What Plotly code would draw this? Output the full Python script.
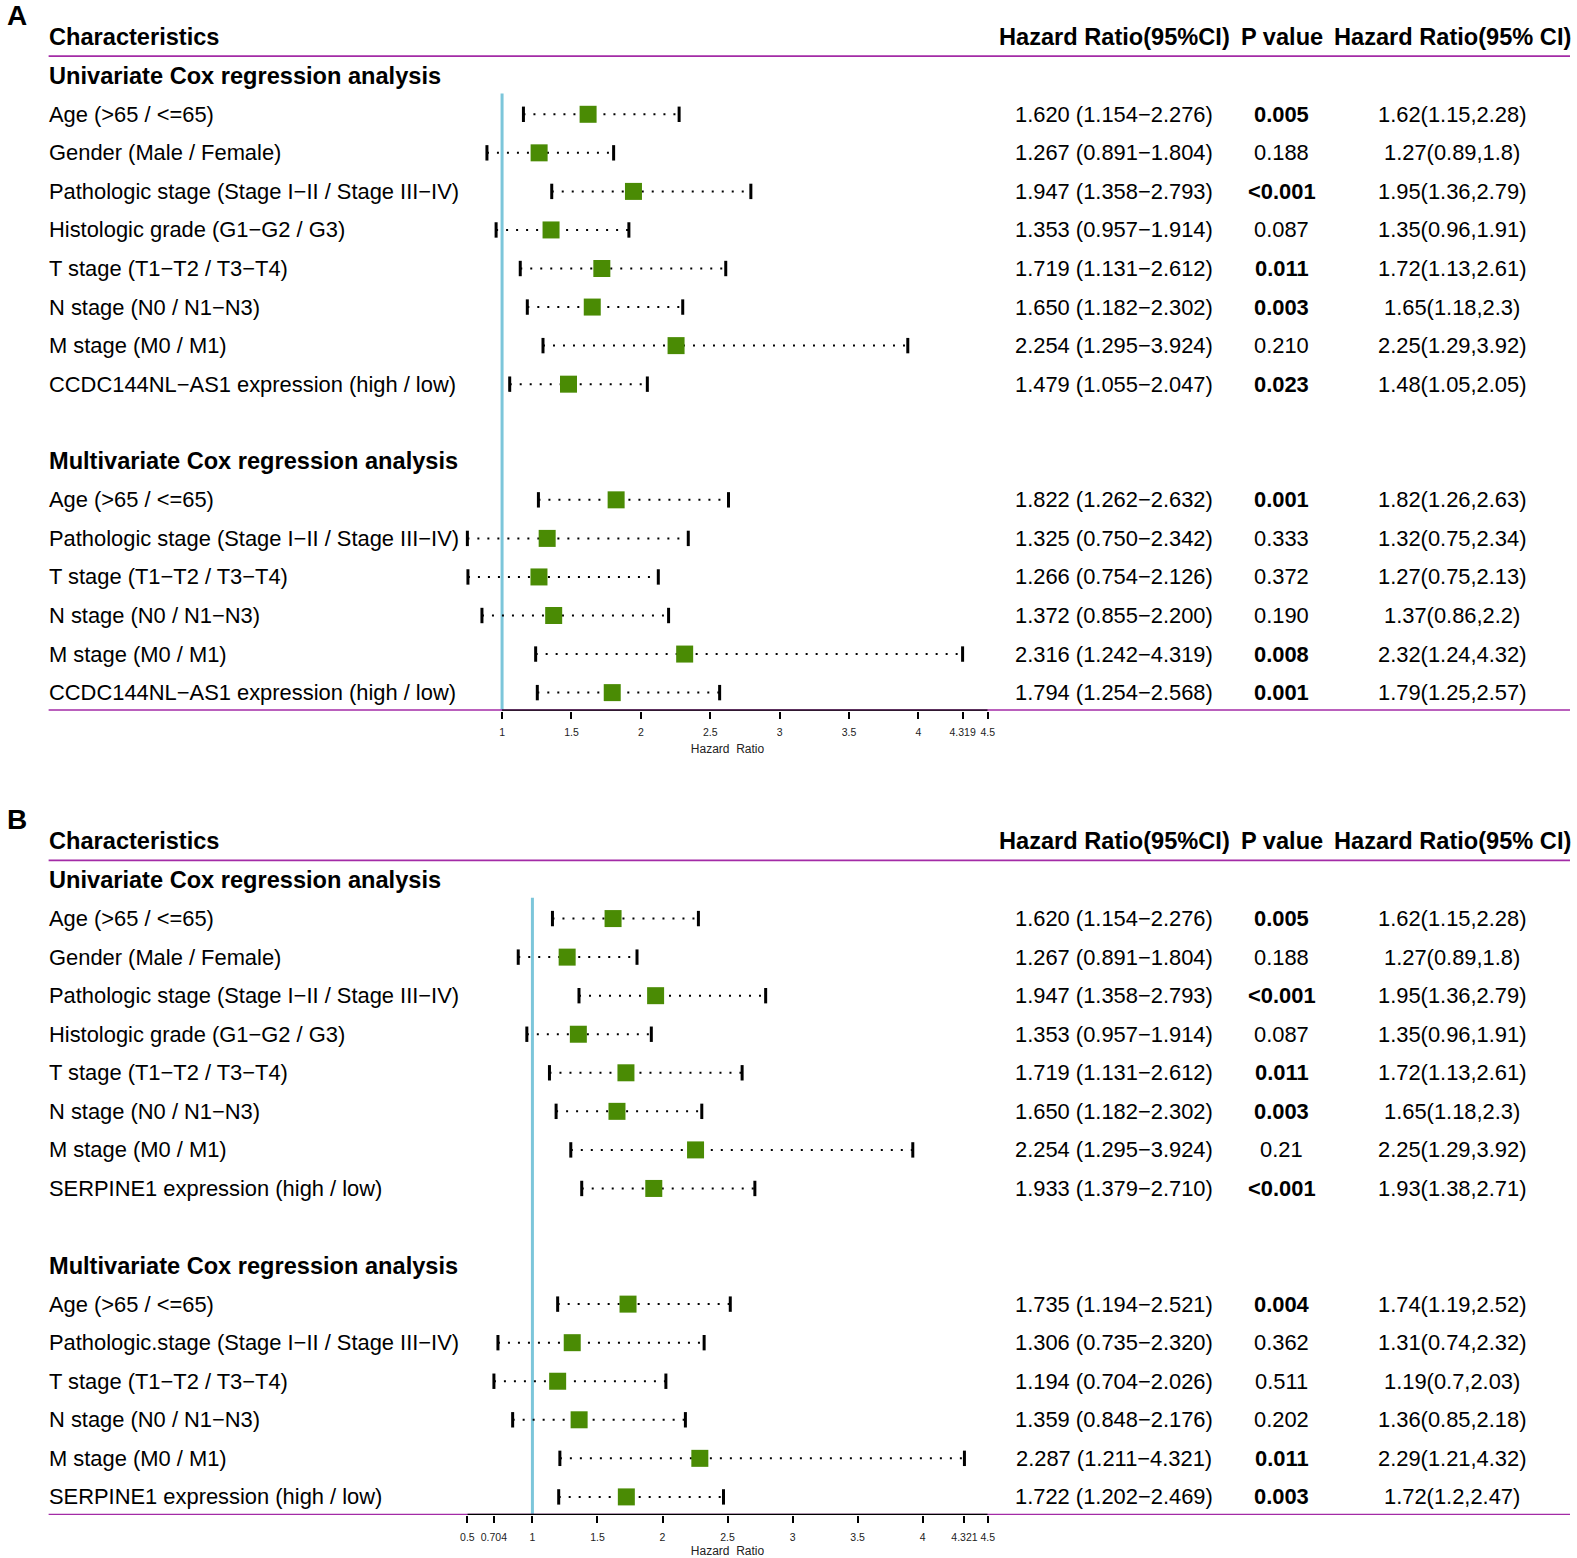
import plotly.graph_objects as go

# ---------------- DATA ----------------
uni_labels_A = ["Age (&gt;65 / &lt;=65)", "Gender (Male / Female)",
                "Pathologic stage (Stage I\u2212II / Stage III\u2212IV)", "Histologic grade (G1\u2212G2 / G3)",
                "T stage (T1\u2212T2 / T3\u2212T4)", "N stage (N0 / N1\u2212N3)", "M stage (M0 / M1)",
                "CCDC144NL\u2212AS1 expression (high / low)"]
uni_hr_A = [1.620, 1.267, 1.947, 1.353, 1.719, 1.650, 2.254, 1.479]
uni_lo_A = [1.154, 0.891, 1.358, 0.957, 1.131, 1.182, 1.295, 1.055]
uni_hi_A = [2.276, 1.804, 2.793, 1.914, 2.612, 2.302, 3.924, 2.047]
uni_p_A = ["0.005", "0.188", "<0.001", "0.087", "0.011", "0.003", "0.210", "0.023"]
uni_ci2_A = ["1.62(1.15,2.28)", "1.27(0.89,1.8)", "1.95(1.36,2.79)", "1.35(0.96,1.91)",
             "1.72(1.13,2.61)", "1.65(1.18,2.3)", "2.25(1.29,3.92)", "1.48(1.05,2.05)"]

multi_labels_A = ["Age (&gt;65 / &lt;=65)", "Pathologic stage (Stage I\u2212II / Stage III\u2212IV)",
                  "T stage (T1\u2212T2 / T3\u2212T4)", "N stage (N0 / N1\u2212N3)", "M stage (M0 / M1)",
                  "CCDC144NL\u2212AS1 expression (high / low)"]
multi_hr_A = [1.822, 1.325, 1.266, 1.372, 2.316, 1.794]
multi_lo_A = [1.262, 0.750, 0.754, 0.855, 1.242, 1.254]
multi_hi_A = [2.632, 2.342, 2.126, 2.200, 4.319, 2.568]
multi_p_A = ["0.001", "0.333", "0.372", "0.190", "0.008", "0.001"]
multi_ci2_A = ["1.82(1.26,2.63)", "1.32(0.75,2.34)", "1.27(0.75,2.13)", "1.37(0.86,2.2)",
               "2.32(1.24,4.32)", "1.79(1.25,2.57)"]

uni_labels_B = ["Age (&gt;65 / &lt;=65)", "Gender (Male / Female)",
                "Pathologic stage (Stage I\u2212II / Stage III\u2212IV)", "Histologic grade (G1\u2212G2 / G3)",
                "T stage (T1\u2212T2 / T3\u2212T4)", "N stage (N0 / N1\u2212N3)", "M stage (M0 / M1)",
                "SERPINE1 expression (high / low)"]
uni_hr_B = [1.620, 1.267, 1.947, 1.353, 1.719, 1.650, 2.254, 1.933]
uni_lo_B = [1.154, 0.891, 1.358, 0.957, 1.131, 1.182, 1.295, 1.379]
uni_hi_B = [2.276, 1.804, 2.793, 1.914, 2.612, 2.302, 3.924, 2.710]
uni_p_B = ["0.005", "0.188", "<0.001", "0.087", "0.011", "0.003", "0.21", "<0.001"]
uni_ci2_B = ["1.62(1.15,2.28)", "1.27(0.89,1.8)", "1.95(1.36,2.79)", "1.35(0.96,1.91)",
             "1.72(1.13,2.61)", "1.65(1.18,2.3)", "2.25(1.29,3.92)", "1.93(1.38,2.71)"]

multi_labels_B = ["Age (&gt;65 / &lt;=65)", "Pathologic.stage (Stage I\u2212II / Stage III\u2212IV)",
                  "T stage (T1\u2212T2 / T3\u2212T4)", "N stage (N0 / N1\u2212N3)", "M stage (M0 / M1)",
                  "SERPINE1 expression (high / low)"]
multi_hr_B = [1.735, 1.306, 1.194, 1.359, 2.287, 1.722]
multi_lo_B = [1.194, 0.735, 0.704, 0.848, 1.211, 1.202]
multi_hi_B = [2.521, 2.320, 2.026, 2.176, 4.321, 2.469]
multi_p_B = ["0.004", "0.362", "0.511", "0.202", "0.011", "0.003"]
multi_ci2_B = ["1.74(1.19,2.52)", "1.31(0.74,2.32)", "1.19(0.7,2.03)", "1.36(0.85,2.18)",
               "2.29(1.21,4.32)", "1.72(1.2,2.47)"]

ticks_A = [1, 1.5, 2, 2.5, 3, 3.5, 4, 4.319, 4.5]
ticks_B = [0.5, 0.704, 1, 1.5, 2, 2.5, 3, 3.5, 4, 4.321, 4.5]
range_A = [0.75, 4.5]
range_B = [0.5, 4.5]
REF = 1

headers = ["Characteristics", "Hazard Ratio(95%CI)", "P value", "Hazard Ratio(95% CI)"]
section_titles = ["Univariate Cox regression analysis", "Multivariate Cox regression analysis"]

# ---------------- STYLE / LAYOUT ----------------
W, H = 1577, 1558
FONT = "Liberation Sans, Arial, sans-serif"
GREEN = "#4A8B04"
MAGENTA = "#A32BA6"
BLUE = "#7CC6DA"
ROW_PX = 38.58
AXIS_ROW = 17.47
X_LABEL, X_C2, X_P, X_C3 = 40, 1117, 1286, 1458
PLOT_X0, PLOT_X1 = 464.5, 989.5
LINE_X0, LINE_X1 = 42, 1577


def fmt_ci(h, l, u):
    return f"{h:.3f} ({l:.3f}\u2212{u:.3f})"


def esc(s):
    return s.replace("<", "&lt;")


def is_sig(p):
    return float(p.replace("<", "")) < 0.05


panels = [
    dict(letter="A", top_px=37.2, xa="x", ya="y", ticks=ticks_A, rng=range_A,
         uni=(uni_labels_A, uni_hr_A, uni_lo_A, uni_hi_A, uni_p_A, uni_ci2_A),
         multi=(multi_labels_A, multi_hr_A, multi_lo_A, multi_hi_A, multi_p_A, multi_ci2_A)),
    dict(letter="B", top_px=842, xa="x2", ya="y2", ticks=ticks_B, rng=range_B,
         uni=(uni_labels_B, uni_hr_B, uni_lo_B, uni_hi_B, uni_p_B, uni_ci2_B),
         multi=(multi_labels_B, multi_hr_B, multi_lo_B, multi_hi_B, multi_p_B, multi_ci2_B)),
]

fig = go.Figure()
annotations = []
shapes = []
layout_axes = {}

for k, pn in enumerate(panels):
    xa, ya = pn["xa"], pn["ya"]
    xname = "xaxis" if k == 0 else "xaxis2"
    yname = "yaxis" if k == 0 else "yaxis2"
    top_row = -0.5
    top_px = pn["top_px"] + top_row * ROW_PX
    bot_px = pn["top_px"] + AXIS_ROW * ROW_PX

    rows = []
    labels, hr, lo, hi, p, ci2 = pn["uni"]
    for i in range(len(labels)):
        rows.append((2 + i, labels[i], hr[i], lo[i], hi[i], p[i], ci2[i]))
    m_start = 2 + len(labels) + 1
    labels, hr, lo, hi, p, ci2 = pn["multi"]
    for i in range(len(labels)):
        rows.append((m_start + 1 + i, labels[i], hr[i], lo[i], hi[i], p[i], ci2[i]))

    lx, ly, cx, cy = [], [], [], []
    for r, lab, h_, l_, u_, p_, c_ in rows:
        lx += [l_, u_, None]
        ly += [r, r, None]
        cx += [l_, u_]
        cy += [r, r]
    fig.add_trace(go.Scatter(x=lx, y=ly, mode="lines", xaxis=xa, yaxis=ya,
                             line=dict(color="black", width=2, dash="2px,8px"),
                             hoverinfo="skip", cliponaxis=False))
    fig.add_trace(go.Scatter(x=cx, y=cy, mode="markers", xaxis=xa, yaxis=ya,
                             marker=dict(symbol="line-ns", size=11,
                                         line=dict(color="black", width=3)),
                             hoverinfo="skip", cliponaxis=False))
    fig.add_trace(go.Scatter(x=[r[2] for r in rows], y=[r[0] for r in rows], mode="markers",
                             xaxis=xa, yaxis=ya,
                             marker=dict(symbol="square", size=17, color=GREEN,
                                         line=dict(width=0)),
                             hoverinfo="skip", cliponaxis=False))

    layout_axes[xname] = dict(domain=[PLOT_X0 / W, PLOT_X1 / W], range=pn["rng"], anchor=ya,
                              tickmode="array", tickvals=pn["ticks"],
                              ticktext=[f"{t:g}" for t in pn["ticks"]],
                              ticks="outside", ticklen=7, tickwidth=2, tickcolor="black",
                              ticklabelstandoff=5,
                              tickfont=dict(family=FONT, size=10.5, color="#222"),
                              showgrid=False, zeroline=False, showline=False,
                              title=dict(text="Hazard\u00a0 Ratio",
                                         font=dict(family=FONT, size=12, color="#222"),
                                         standoff=7))
    layout_axes[yname] = dict(domain=[1 - bot_px / H, 1 - top_px / H],
                              range=[AXIS_ROW, top_row], anchor=xa, visible=False,
                              showgrid=False, zeroline=False)

    shapes.append(dict(type="line", xref="paper", yref=ya, x0=LINE_X0 / W, x1=LINE_X1 / W,
                       y0=0.49, y1=0.49, line=dict(color=MAGENTA, width=1.8)))
    shapes.append(dict(type="line", xref="paper", yref=ya, x0=LINE_X0 / W, x1=LINE_X1 / W,
                       y0=AXIS_ROW - 0.01, y1=AXIS_ROW - 0.01, line=dict(color=MAGENTA, width=2)))
    shapes.append(dict(type="line", xref=xa, yref=ya, x0=REF, x1=REF,
                       y0=1.46, y1=AXIS_ROW, line=dict(color=BLUE, width=3), layer="below"))
    shapes.append(dict(type="line", xref=xa, yref=ya, x0=pn["ticks"][0], x1=pn["ticks"][-1],
                       y0=AXIS_ROW, y1=AXIS_ROW, line=dict(color="black", width=2.5)))

    annotations.append(dict(text=f"<b>{pn['letter']}</b>", xref="paper", yref="paper",
                            x=-2 / W, y=1 - (pn["top_px"] - 22) / H, xanchor="left",
                            yanchor="middle", showarrow=False,
                            font=dict(family=FONT, size=28, color="black")))

    def add_text(txt, xpx, row, anchor, size, bold=False):
        t = f"<b>{txt}</b>" if bold else txt
        annotations.append(dict(text=t, xref="paper", yref=ya, x=xpx / W, y=row,
                                xanchor=anchor, yanchor="middle", showarrow=False,
                                font=dict(family=FONT, size=size, color="black")))

    add_text(headers[0], X_LABEL, 0, "left", 23.6, True)
    add_text(headers[1], X_C2, 0, "center", 23.6, True)
    add_text(headers[2], X_P, 0, "center", 23.6, True)
    add_text(headers[3], X_C3, 0, "center", 23.6, True)
    add_text(section_titles[0], X_LABEL, 1, "left", 23.6, True)
    add_text(section_titles[1], X_LABEL, m_start, "left", 23.6, True)
    for r, lab, h_, l_, u_, p_, c_ in rows:
        add_text(lab, X_LABEL, r, "left", 21.9)
        add_text(fmt_ci(h_, l_, u_), X_C2, r, "center", 21.9)
        add_text(esc(p_), X_P, r, "center", 21.9, is_sig(p_))
        add_text(c_, X_C3, r, "center", 21.9)

fig.update_layout(width=W, height=H, margin=dict(l=0, r=0, t=0, b=0),
                  paper_bgcolor="white", plot_bgcolor="white", showlegend=False,
                  annotations=annotations, shapes=shapes, **layout_axes)

fig.write_html("out.html", config={"displayModeBar": False},
               post_script="document.documentElement.style.margin='0';"
                           "document.body.style.margin='0';"
                           "document.body.style.padding='0';"
                           "document.body.style.overflow='hidden';")
